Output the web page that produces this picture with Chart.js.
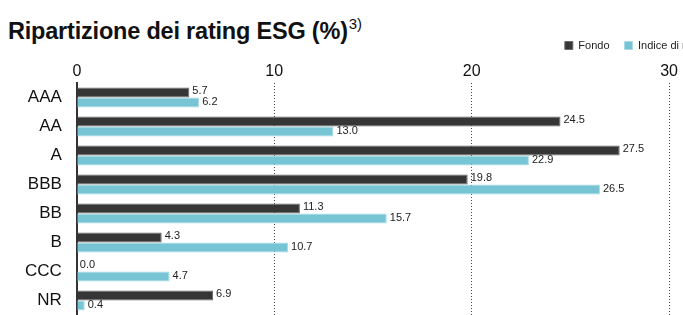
<!DOCTYPE html>
<html>
<head>
<meta charset="utf-8">
<script src="https://cdn.jsdelivr.net/npm/chart.js@4.4.1/dist/chart.umd.min.js"></script>
<style>
  html, body { margin: 0; padding: 0; background: #fff; overflow: hidden; }
  body { width: 683px; height: 315px; position: relative; }
  #title {
    position: absolute; left: 8px; top: 11px; margin: 0;
    font-family: "Liberation Sans", Arial, sans-serif; font-weight: bold;
    font-size: 23.5px; line-height: 28px; color: #111; letter-spacing: -0.2px; white-space: nowrap;
  }
  #title sup { font-size: 15px; font-weight: normal; position: relative; top: -1px; margin-left: 1px; }
  #esgChart { position: absolute; left: 0; top: 0; }
</style>
</head>
<body>
<h1 id="title">Ripartizione dei rating ESG (%)<sup>3)</sup></h1>
<canvas id="esgChart" width="749" height="315"></canvas>
<script>
var ratingLabels = ["AAA", "AA", "A", "BBB", "BB", "B", "CCC", "NR"];
var fondoValues = [5.7, 24.5, 27.5, 19.8, 11.3, 4.3, 0.0, 6.9];
var indiceValues = [6.2, 13.0, 22.9, 26.5, 15.7, 10.7, 4.7, 0.4];
var seriesNames = ["Fondo", "Indice di riferimento"];
var xTicks = [0, 10, 20, 30];

var fontFamily = "'Liberation Sans', Arial, sans-serif";

// labels with the value next to the end of each bar
var valueLabels = {
  id: "valueLabels",
  afterDatasetsDraw: function(chart) {
    var ctx = chart.ctx;
    ctx.save();
    ctx.font = "11px " + fontFamily;
    ctx.fillStyle = "#222";
    ctx.textAlign = "left";
    ctx.textBaseline = "middle";
    chart.data.datasets.forEach(function(ds, i) {
      var meta = chart.getDatasetMeta(i);
      meta.data.forEach(function(bar, j) {
        ctx.fillText(ds.data[j].toFixed(1), bar.x + 3, bar.y - 1);
      });
    });
    ctx.restore();
  }
};

const dataEsg = {
  labels: ratingLabels,
  datasets: [
    {
      label: seriesNames[0],
      data: fondoValues,
      backgroundColor: "#363636",
      borderColor: "#6a6a6a",
      borderWidth: 1,
      categoryPercentage: 0.7,
      barPercentage: 0.98,
    },
    {
      label: seriesNames[1],
      data: indiceValues,
      backgroundColor: "#76c4d4",
      borderColor: "#a9dce6",
      borderWidth: 1,
      categoryPercentage: 0.7,
      barPercentage: 0.98,
    },
  ],
};

const configEsg = {
  type: "bar",
  data: dataEsg,
  plugins: [valueLabels],
  options: {
    indexAxis: "y",
    responsive: false,
    animation: false,
    layout: { padding: { top: 25, left: 18, right: 0, bottom: 0 } },
    plugins: {
      tooltip: { enabled: false },
      legend: {
        display: true,
        position: "top",
        align: "end",
        labels: {
          boxWidth: 8,
          boxHeight: 8,
          padding: 15,
          color: "#222",
          font: { family: fontFamily, size: 11, lineHeight: 1 },
        },
      },
    },
    scales: {
      x: {
        position: "top",
        min: 0,
        max: 34.05,
        afterBuildTicks: function(scale) {
          scale.ticks = xTicks.map(function(v) { return { value: v }; });
        },
        ticks: {
          color: "#111",
          padding: 3,
          font: { family: fontFamily, size: 16, lineHeight: 1 },
        },
        grid: {
          drawTicks: false,
          color: function(c) { return c.tick && c.tick.value > 0 ? "#444" : "transparent"; },
          lineWidth: 1,
        },
        border: { display: false, dash: [1, 2] },
      },
      y: {
        // bars run to the bottom edge, no room kept for the last label
        afterFit: function(scale) {
          scale.paddingTop = 0;
          scale.paddingBottom = 0;
        },
        ticks: {
          color: "#111",
          padding: 7,
          font: { family: fontFamily, size: 17 },
        },
        grid: { display: false },
        border: { display: true, color: "#333", width: 2 },
      },
    },
  },
};

var esgChart = new Chart(document.getElementById("esgChart"), configEsg);
</script>
</body>
</html>
